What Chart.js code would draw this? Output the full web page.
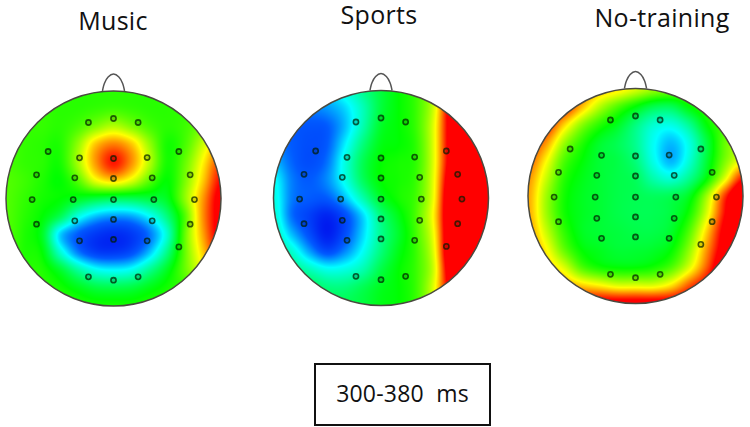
<!DOCTYPE html>
<html>
<head>
<meta charset="utf-8">
<script src="https://cdn.jsdelivr.net/npm/chart.js@4/dist/chart.umd.min.js"></script>
<style>
  html, body { margin: 0; padding: 0; background: #fff; }
  body { position: relative; width: 750px; height: 427px; overflow: hidden; font-family: "Open Sans", sans-serif; color: #111; }
  canvas { position: absolute; filter: blur(0.4px); }
  .title { position: absolute; font-size: 25px; letter-spacing: .3px; line-height: 30px; transform: translateX(-50%); white-space: nowrap; }
  #window { position: absolute; left: 314px; top: 363px; width: 173px; height: 59px; border: 2px solid #111;
            font-size: 23px; letter-spacing: .2px; line-height: 57px; text-align: center; white-space: pre; }
</style>
</head>
<body>
<canvas id="music"></canvas>
<canvas id="sports"></canvas>
<canvas id="noTraining"></canvas>
<div class="title" style="left:113px;top:5px">Music</div>
<div class="title" style="left:379px;top:-1px">Sports</div>
<div class="title" style="left:662px;top:2px">No-training</div>
<div id="window">300-380  ms</div>
<script>
// electrode montage, head radius = 1, nose up
const electrodeX = [-.233, 0, .229,
  -.608, -.316, 0, .313, .608,
  -.716, -.36, 0, .36, .713,
  -.757, -.375, 0, .375, .753,
  -.716, -.36, 0, .36, .713,
  -.316, 0, .313, .608,
  -.233, 0, .229];
const electrodeY = [.707, .744, .707,
  .437, .378, .372, .381, .437,
  .22, .192, .186, .192, .22,
  -.01, -.01, -.01, -.01, -.01,
  -.239, -.208, -.195, -.208, -.239,
  -.394, -.381, -.394, -.45,
  -.729, -.76, -.729];
const noseX = [-.103, -.085, -.05, 0, .05, .085, .103];
const noseY = [1, 1.07, 1.13, 1.157, 1.13, 1.07, 1];

// amplitude, 0 = blue, .5 = green, 1 = red
// 13 x 13 knots from top to bottom, left to right, over the head's bounding box
const musicField = [
  [.56, .55, .55, .55, .54, .54, .54, .54, .54, .55, .56, .58, .6],
  [.56, .55, .55, .54, .54, .55, .56, .55, .54, .54, .55, .58, .62],
  [.56, .55, .55, .54, .57, .63, .68, .63, .57, .54, .56, .62, .7],
  [.57, .55, .54, .53, .64, .81, .88, .81, .65, .52, .57, .7, .84],
  [.57, .55, .54, .52, .66, .85, .98, .86, .68, .52, .6, .76, .94],
  [.58, .56, .53, .5, .58, .73, .79, .72, .59, .5, .62, .8, 1],
  [.58, .55, .52, .5, .47, .44, .42, .42, .44, .47, .64, .85, 1.05],
  [.58, .54, .5, .42, .28, .2, .17, .18, .25, .38, .58, .86, 1.05],
  [.58, .53, .47, .22, .12, .07, .05, .07, .14, .3, .6, .84, 1.05],
  [.57, .53, .5, .3, .15, .08, .07, .1, .2, .37, .6, .8, 1],
  [.56, .54, .53, .46, .35, .27, .25, .27, .36, .47, .6, .74, .88],
  [.56, .55, .54, .52, .48, .44, .43, .44, .48, .52, .56, .64, .72],
  [.56, .55, .55, .54, .53, .52, .52, .52, .53, .54, .56, .58, .62]
];
const sportsField = [
  [.2, .2, .2, .22, .28, .36, .44, .5, .56, .7, 1, 1.2, 1.2],
  [.16, .15, .15, .17, .22, .32, .44, .5, .56, .72, 1.1, 1.2, 1.2],
  [.15, .12, .11, .12, .2, .33, .46, .5, .56, .74, 1.1, 1.2, 1.2],
  [.15, .12, .1, .12, .24, .38, .48, .5, .55, .74, 1.1, 1.2, 1.2],
  [.2, .13, .1, .14, .28, .42, .5, .52, .55, .74, 1.1, 1.2, 1.2],
  [.26, .15, .12, .16, .27, .41, .5, .52, .56, .75, 1.15, 1.2, 1.2],
  [.28, .15, .12, .12, .2, .33, .46, .52, .57, .76, 1.2, 1.2, 1.2],
  [.3, .14, .08, .04, .1, .22, .38, .48, .58, .78, 1.2, 1.2, 1.2],
  [.33, .2, .1, .03, .1, .22, .36, .46, .57, .76, 1.2, 1.2, 1.2],
  [.38, .3, .18, .1, .16, .26, .38, .48, .56, .74, 1.2, 1.2, 1.2],
  [.42, .38, .32, .27, .28, .33, .43, .5, .56, .72, 1.15, 1.2, 1.2],
  [.45, .44, .42, .38, .38, .42, .47, .5, .56, .74, 1.1, 1.2, 1.2],
  [.46, .45, .44, .42, .42, .44, .48, .5, .56, .74, 1.1, 1.2, 1.2]
];
const noTrainingField = [
  [1, 1, 1, .9, .82, .78, .72, .66, .62, .6, .6, .62, .7],
  [1, 1, .98, .82, .68, .58, .5, .43, .42, .5, .56, .6, .66],
  [1, .98, .8, .64, .54, .47, .38, .3, .28, .36, .5, .58, .66],
  [.98, .86, .66, .54, .46, .42, .36, .26, .2, .28, .44, .6, .68],
  [.92, .76, .58, .5, .45, .43, .38, .27, .19, .29, .45, .62, .74],
  [.86, .7, .54, .48, .45, .43, .41, .33, .29, .36, .5, .72, .98],
  [.84, .66, .52, .47, .45, .43, .42, .41, .42, .47, .66, .95, 1.2],
  [.84, .66, .52, .47, .45, .43, .42, .42, .44, .52, .72, 1, 1.2],
  [.86, .7, .55, .47, .45, .44, .43, .43, .46, .58, .8, 1.05, 1.2],
  [.88, .76, .6, .5, .47, .45, .45, .46, .5, .64, .86, 1.08, 1.2],
  [.9, .82, .72, .58, .52, .5, .5, .52, .58, .72, .92, 1.15, 1.2],
  [.95, .9, .86, .8, .76, .72, .72, .72, .78, .92, 1.05, 1.2, 1.2],
  [1.05, 1.05, 1.05, 1.05, 1.05, 1.05, 1.05, 1.05, 1.05, 1.1, 1.2, 1.2, 1.2]
];

const colorStops = [
  [0, 0, 10, 235],
  [.12, 0, 90, 255],
  [.25, 0, 255, 255],
  [.5, 0, 255, 0],
  [.75, 255, 255, 0],
  [1, 255, 0, 0]
];

function colorFor(v) {
  v = Math.max(0, Math.min(1, v));
  let i = 1;
  while (i < colorStops.length - 1 && v > colorStops[i][0]) i++;
  const a = colorStops[i - 1], b = colorStops[i];
  const t = (v - a[0]) / (b[0] - a[0]);
  return [a[1] + (b[1] - a[1]) * t, a[2] + (b[2] - a[2]) * t, a[3] + (b[3] - a[3]) * t];
}

function cubic(p0, p1, p2, p3, t) {
  return p1 + .5 * t * (p2 - p0 + t * (2 * p0 - 5 * p1 + 4 * p2 - p3 + t * (3 * (p1 - p2) + p3 - p0)));
}

// smooth reading of the knots at head coordinates x, y
function sampleField(field, x, y) {
  const n = field.length - 1;
  const gx = Math.max(0, Math.min(n - 1e-6, (x + 1) / 2 * n));
  const gy = Math.max(0, Math.min(n - 1e-6, (1 - y) / 2 * n));
  const ix = Math.floor(gx), iy = Math.floor(gy);
  const at = (r, c) => field[Math.max(0, Math.min(n, r))][Math.max(0, Math.min(n, c))];
  const rows = [-1, 0, 1, 2].map((d) =>
    cubic(at(iy + d, ix - 1), at(iy + d, ix), at(iy + d, ix + 1), at(iy + d, ix + 2), gx - ix));
  return cubic(rows[0], rows[1], rows[2], rows[3], gy - iy);
}

const topoPlugin = {
  id: 'topo',
  beforeDatasetsDraw(chart, args, opts) {
    const { ctx, scales: { x, y } } = chart;
    const cx = x.getPixelForValue(0), cy = y.getPixelForValue(0);
    const r = x.getPixelForValue(1) - cx;
    const size = Math.ceil(r * 2) + 2;
    const off = document.createElement('canvas');
    off.width = off.height = size;
    const octx = off.getContext('2d');
    const img = octx.createImageData(size, size);
    const x0 = Math.floor(cx - r) - 1, y0 = Math.floor(cy - r) - 1;
    for (let j = 0; j < size; j++) {
      for (let i = 0; i < size; i++) {
        const c = colorFor(sampleField(opts.field, x.getValueForPixel(x0 + i + .5), y.getValueForPixel(y0 + j + .5)));
        const k = (j * size + i) * 4;
        img.data[k] = c[0];
        img.data[k + 1] = c[1];
        img.data[k + 2] = c[2];
        img.data[k + 3] = 255;
      }
    }
    octx.putImageData(img, 0, 0);
    ctx.save();
    ctx.beginPath();
    ctx.arc(cx, cy, r, 0, Math.PI * 2);
    ctx.save();
    ctx.clip();
    ctx.drawImage(off, x0, y0);
    ctx.restore();
    ctx.lineWidth = 1.5;
    ctx.strokeStyle = '#4a4a40';
    ctx.stroke();
    ctx.restore();
  }
};

function drawHead(id, field, cx, cy) {
  const radius = 107.5, width = 226, top = 60, height = 260;
  const left = Math.round(cx - width / 2);
  const canvas = document.getElementById(id);
  canvas.style.left = left + 'px';
  canvas.style.top = top + 'px';
  canvas.style.width = width + 'px';
  canvas.style.height = height + 'px';
  canvas.width = width;
  canvas.height = height;
  new Chart(canvas, {
    type: 'scatter',
    data: {
      datasets: [
        {
          label: 'Electrodes',
          data: electrodeX.map((x, i) => ({ x, y: electrodeY[i] })),
          pointRadius: 2.6,
          pointBorderWidth: 1.6,
          pointBackgroundColor: 'rgba(0,0,0,0.15)',
          pointBorderColor: 'rgba(0,30,0,0.7)'
        },
        {
          label: 'Nose',
          data: noseX.map((x, i) => ({ x, y: noseY[i] })),
          showLine: true,
          tension: .4,
          pointRadius: 0,
          borderWidth: 1.5,
          borderColor: '#555'
        }
      ]
    },
    options: {
      responsive: false,
      animation: false,
      layout: { padding: 0, autoPadding: false },
      plugins: { legend: { display: false }, tooltip: { enabled: false }, topo: { field } },
      scales: {
        x: { type: 'linear', display: false, min: (left - cx) / radius, max: (left + width - cx) / radius },
        y: { type: 'linear', display: false, min: (cy - top - height) / radius, max: (cy - top) / radius }
      }
    },
    plugins: [topoPlugin]
  });
}

drawHead('music', musicField, 113.5, 198.5);
drawHead('sports', sportsField, 381, 198);
drawHead('noTraining', noTrainingField, 635.5, 196);
</script>
</body>
</html>
